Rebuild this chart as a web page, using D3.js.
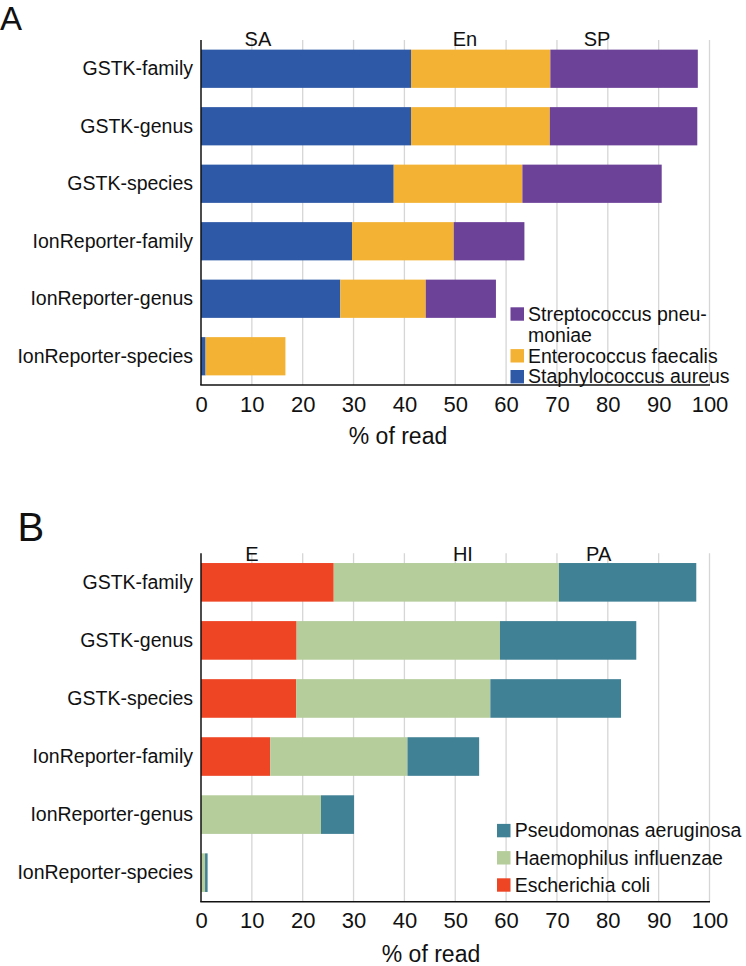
<!DOCTYPE html>
<html>
<head>
<meta charset="utf-8">
<script src="https://cdn.jsdelivr.net/npm/d3@7"></script>
<style>
  html, body { margin: 0; padding: 0; background: #fff; }
  svg { display: block; font-family: "Liberation Sans", Arial, Helvetica, sans-serif; }
</style>
</head>
<body>
<svg id="chart" width="746" height="966"></svg>
<script>
// ---------- DATA ----------
const categories = ["GSTK-family", "GSTK-genus", "GSTK-species",
  "IonReporter-family", "IonReporter-genus", "IonReporter-species"];

// Panel A (stack order: SA, En, SP)
const seriesA = ["Staphylococcus aureus", "Enterococcus faecalis", "Streptococcus pneumoniae"];
const shortA = ["SA", "En", "SP"];
const saValues = [41.3, 41.3, 37.9, 29.7, 27.4, 0.9];
const enValues = [27.4, 27.3, 25.3, 20.0, 16.8, 15.7];
const spValues = [29.0, 29.0, 27.4, 13.9, 13.8, 0.0];
const legendLinesA = [["Streptococcus pneu-", "moniae"], ["Enterococcus faecalis"], ["Staphylococcus aureus"]];

// Panel B (stack order: E, HI, PA)
const seriesB = ["Escherichia coli", "Haemophilus influenzae", "Pseudomonas aeruginosa"];
const shortB = ["E", "HI", "PA"];
const ecValues = [26.1, 18.8, 18.7, 13.6, 0.0, 0.0];
const hiValues = [44.3, 40.0, 38.2, 27.0, 23.6, 0.8];
const paValues = [27.0, 26.8, 25.7, 14.1, 6.5, 0.5];
const legendLinesB = [["Pseudomonas aeruginosa"], ["Haemophilus influenzae"], ["Escherichia coli"]];

const xTicks = [0, 10, 20, 30, 40, 50, 60, 70, 80, 90, 100];
const xTitle = "% of read";

// ---------- STYLE ----------
const colorsA = ["#2D59A6", "#F3B234", "#6C4198"];
const colorsB = ["#EE4525", "#B5CC9B", "#418195"];
const FONT = 19.5;

const svg = d3.select("#chart");

function drawPanel(cfg) {
  const g = svg.append("g");
  const x = d3.scaleLinear().domain([0, 100]).range([201, 709.5]);
  const y = d3.scaleBand().domain(categories).range([cfg.top, cfg.bottom])
    .paddingInner(0.335).paddingOuter(0.1675);

  // rows for stack
  const rows = categories.map((c, i) => {
    const r = { cat: c };
    cfg.series.forEach((s, j) => r[s] = cfg.values[j][i]);
    return r;
  });
  const stacked = d3.stack().keys(cfg.series)(rows);

  // gridlines
  g.append("g").selectAll("line").data(xTicks.filter(t => t > 0)).join("line")
    .attr("x1", d => x(d)).attr("x2", d => x(d))
    .attr("y1", cfg.top).attr("y2", cfg.bottom)
    .attr("stroke", "#d6d6d6").attr("stroke-width", 1.3);

  // bars
  g.append("g").selectAll("g").data(stacked).join("g")
    .attr("fill", (d, i) => cfg.colors[i])
    .selectAll("rect").data(d => d).join("rect")
    .attr("x", d => x(d[0]))
    .attr("width", d => Math.max(0, x(d[1]) - x(d[0])))
    .attr("y", d => y(d.data.cat))
    .attr("height", y.bandwidth());

  // x axis (labels only, no tick marks)
  const xAxis = d3.axisBottom(x).tickValues(xTicks).tickSize(0).tickPadding(0).tickFormat(d3.format("d"));
  const ax = g.append("g").attr("transform", `translate(0,${cfg.bottom})`).call(xAxis);
  ax.select(".domain").remove();
  ax.selectAll("text").attr("font-size", 22).attr("fill", "#111")
    .attr("font-family", "Liberation Sans, Arial, sans-serif")
    .attr("dy", null).attr("y", 26.5);

  // axis lines
  g.append("line").attr("x1", x(0)).attr("x2", x(0)).attr("y1", cfg.top).attr("y2", cfg.bottom)
    .attr("stroke", "#111").attr("stroke-width", 1.5);
  g.append("line").attr("x1", x(0) - 0.75).attr("x2", x(100) + 0.5).attr("y1", cfg.bottom).attr("y2", cfg.bottom)
    .attr("stroke", "#111").attr("stroke-width", 1.5);

  // y category labels
  const yAxis = d3.axisLeft(y).tickSize(0).tickPadding(8);
  const ay = g.append("g").attr("transform", `translate(${x(0)},0)`).call(yAxis);
  ay.select(".domain").remove();
  ay.selectAll("text").attr("font-size", FONT).attr("fill", "#111")
    .attr("font-family", "Liberation Sans, Arial, sans-serif");

  // short series labels above bars
  g.append("g").selectAll("text").data(cfg.short).join("text")
    .attr("x", (d, i) => x(cfg.shortPos[i])).attr("y", cfg.shortY)
    .attr("text-anchor", "middle").attr("font-size", 20).attr("fill", "#111")
    .text(d => d);

  // axis title
  g.append("text").attr("x", cfg.titleX).attr("y", cfg.titleY)
    .attr("text-anchor", "middle").attr("font-size", 23).attr("fill", "#111").text(xTitle);

  // panel letter
  g.append("text").attr("x", cfg.letterX).attr("y", cfg.letterY)
    .attr("font-size", cfg.letterSize).attr("fill", "#111").text(cfg.letter);

  // legend
  const lg = g.append("g");
  let lineIdx = 0;
  cfg.legendLines.forEach((lines, k) => {
    const colIdx = cfg.legendOrder[k];
    const base = cfg.legendY + lineIdx * cfg.legendStep;
    lg.append("rect").attr("x", cfg.legendX).attr("y", base - 13.4)
      .attr("width", 13.5).attr("height", 13.4).attr("fill", cfg.colors[colIdx]);
    lines.forEach((ln, m) => {
      lg.append("text").attr("x", cfg.legendX + cfg.legendGap).attr("y", base + m * cfg.legendStep)
        .attr("font-size", FONT).attr("fill", "#111").text(ln);
    });
    lineIdx += lines.length;
  });
}

drawPanel({
  top: 40, bottom: 385,
  series: seriesA, values: [saValues, enValues, spValues], colors: colorsA,
  short: shortA, shortPos: [11.2, 51.9, 77.9], shortY: 46,
  titleX: 398, titleY: 443.5,
  letter: "A", letterX: 0, letterY: 30, letterSize: 33,
  legendLines: legendLinesA, legendOrder: [2, 1, 0],
  legendX: 510.5, legendY: 320.7, legendStep: 20.9, legendGap: 17.5
});

drawPanel({
  top: 553.3, bottom: 901.7,
  series: seriesB, values: [ecValues, hiValues, paValues], colors: colorsB,
  short: shortB, shortPos: [10.0, 51.5, 78.2], shortY: 560.5,
  titleX: 431, titleY: 962,
  letter: "B", letterX: 17.5, letterY: 541, letterSize: 40,
  legendLines: legendLinesB, legendOrder: [2, 1, 0],
  legendX: 497, legendY: 837.3, legendStep: 27.2, legendGap: 17.7
});
</script>
</body>
</html>
